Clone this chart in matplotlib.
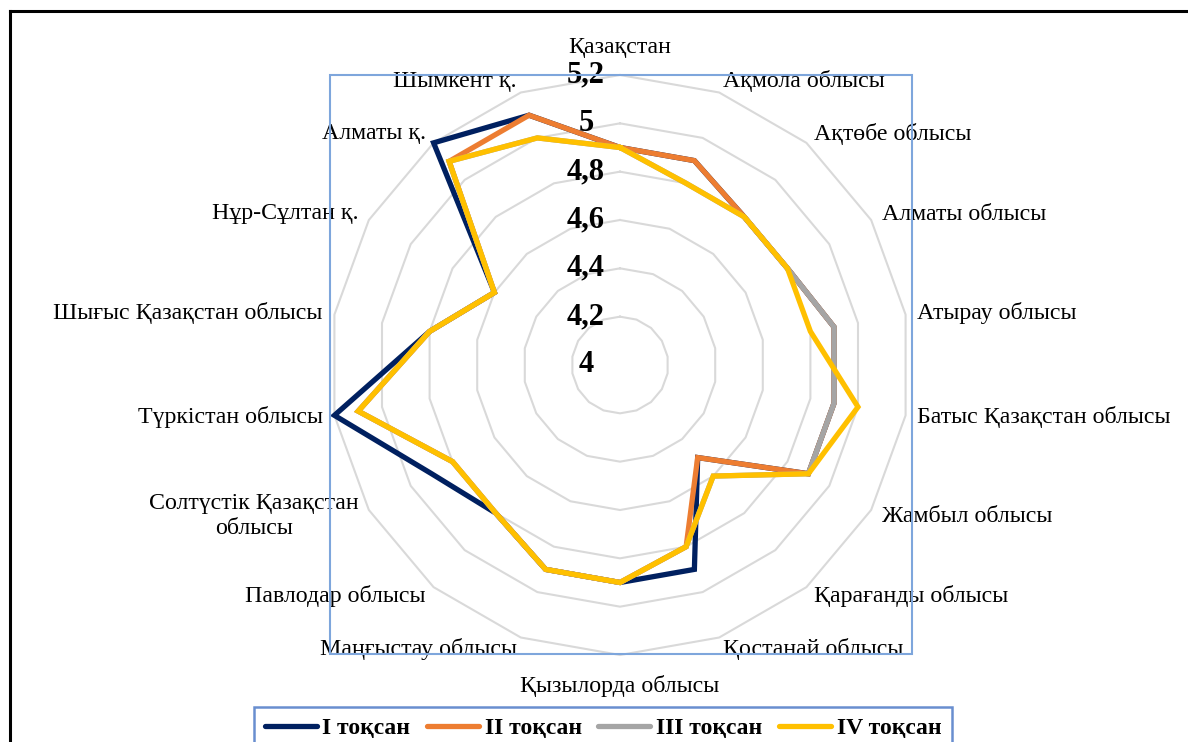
import numpy as np
import matplotlib
matplotlib.use("Agg")
import matplotlib.pyplot as plt
from matplotlib.patches import Rectangle
from matplotlib.lines import Line2D
from matplotlib.transforms import ScaledTranslation

plt.rcParams['font.family'] = ['Liberation Serif', 'DejaVu Serif']

categories = ["Қазақстан", "Ақмола облысы", "Ақтөбе облысы", "Алматы облысы",
              "Атырау облысы", "Батыс Қазақстан облысы", "Жамбыл облысы",
              "Қарағанды облысы", "Қостанай облысы", "Қызылорда облысы",
              "Маңғыстау облысы", "Павлодар облысы",
              "Солтүстік Қазақстан\nоблысы", "Түркістан облысы",
              "Шығыс Қазақстан облысы", "Нұр-Сұлтан қ.", "Алматы қ.", "Шымкент қ."]

q1 = [4.9, 4.9, 4.8, 4.8, 4.9, 4.9, 4.9, 4.5, 4.9, 4.9, 4.9, 4.8, 4.9, 5.2, 4.8, 4.6, 5.2, 5.1]
q2 = [4.9, 4.9, 4.8, 4.8, 4.9, 4.9, 4.9, 4.5, 4.8, 4.9, 4.9, 4.8, 4.8, 5.1, 4.8, 4.6, 5.1, 5.1]
q3 = [4.9, 4.8, 4.8, 4.8, 4.9, 4.9, 4.9, 4.6, 4.8, 4.9, 4.9, 4.8, 4.8, 5.1, 4.8, 4.6, 5.1, 5.0]
q4 = [4.9, 4.8, 4.8, 4.8, 4.8, 5.0, 4.9, 4.6, 4.8, 4.9, 4.9, 4.8, 4.8, 5.1, 4.8, 4.6, 5.1, 5.0]

series_names = ["I тоқсан", "II тоқсан", "III тоқсан", "IV тоқсан"]
colors = ["#002060", "#ed7d31", "#a5a5a5", "#ffc000"]

ticks = [4.0, 4.2, 4.4, 4.6, 4.8, 5.0, 5.2]
tick_labels = ["4", "4,2", "4,4", "4,6", "4,8", "5", "5,2"]

W, H = 1188, 742
fig = plt.figure(figsize=(W / 100, H / 100), dpi=100)

# polar axes: center (620,365) px, radius 290 px
cx, cy, R = 620, 365, 290
ax = fig.add_axes([(cx - R) / W, 1 - (cy + R) / H, 2 * R / W, 2 * R / H], projection='polar')
ax.set_theta_zero_location('N')
ax.set_theta_direction(-1)
ax.set_ylim(4.0, 5.2)
ax.grid(False)
ax.spines['polar'].set_visible(False)
ax.set_xticks([])
ax.set_yticks([])
ax.patch.set_alpha(0)

n = len(categories)
angles = np.linspace(0, 2 * np.pi, n, endpoint=False)
closed = np.append(angles, angles[0])

# polygon gridlines
for t in ticks[1:]:
    ax.plot(closed, [t] * (n + 1), color="#d9d9d9", lw=1.5, zorder=1, clip_on=False)

for vals, c in zip([q1, q2, q3, q4], colors):
    ax.plot(closed, vals + vals[:1], color=c, lw=3.8, zorder=3, clip_on=False,
            solid_joinstyle='miter')

# value labels
off = ax.transData + ScaledTranslation(-34 / 100, 0, fig.dpi_scale_trans)
for t, lab in zip(ticks, tick_labels):
    ax.text(0, t, lab, transform=off, ha='center', va='center',
            fontsize=22, fontweight='bold', zorder=5)

# category labels
r_lab = 4.0 + 302 / 290 * 1.2
up = ax.transData + ScaledTranslation(0, 5 / 100, fig.dpi_scale_trans)
down = ax.transData + ScaledTranslation(0, -8 / 100, fig.dpi_scale_trans)
for a, lab in zip(angles, categories):
    deg = np.degrees(a)
    tr = ax.transData
    if abs(deg) < 1:
        ha, va, tr = 'center', 'bottom', up
    elif abs(deg - 180) < 1:
        ha, va, tr = 'center', 'top', down
    elif deg < 180:
        ha, va = 'left', 'center'
    else:
        ha, va = 'right', 'center'
    ax.text(a, r_lab, lab, transform=tr, ha=ha, va=va, fontsize=17.2,
            multialignment='center', linespacing=1.3, clip_on=False)

# plot area frame
fig.patches.append(Rectangle((330 / W, 1 - 654 / H), 582 / W, 579 / H,
                             transform=fig.transFigure, fill=False,
                             edgecolor="#7ea6dc", lw=1.5))
# outer border (top and left)
fig.add_artist(Line2D([9.5 / W, 9.5 / W], [0, 1 - 11 / H], color='black', lw=2.2,
                      transform=fig.transFigure))
fig.add_artist(Line2D([9.5 / W, 1], [1 - 11 / H, 1 - 11 / H], color='black', lw=2.2,
                      transform=fig.transFigure))

handles = [Line2D([], [], color=c, lw=3.8, solid_capstyle='round') for c in colors]
leg = fig.legend(handles, series_names, loc='upper left',
                 bbox_to_anchor=(254 / W, 1 - 707 / H, 698 / W, 0), mode='expand',
                 ncol=4, frameon=True, fancybox=False, handlelength=2.2,
                 handletextpad=0.25, columnspacing=0.6, borderaxespad=0,
                 borderpad=0.45, prop={'size': 17, 'weight': 'bold'})
leg.get_frame().set_edgecolor("#4472c4")
leg.get_frame().set_linewidth(1.8)

fig.savefig("out.png", dpi=100)
